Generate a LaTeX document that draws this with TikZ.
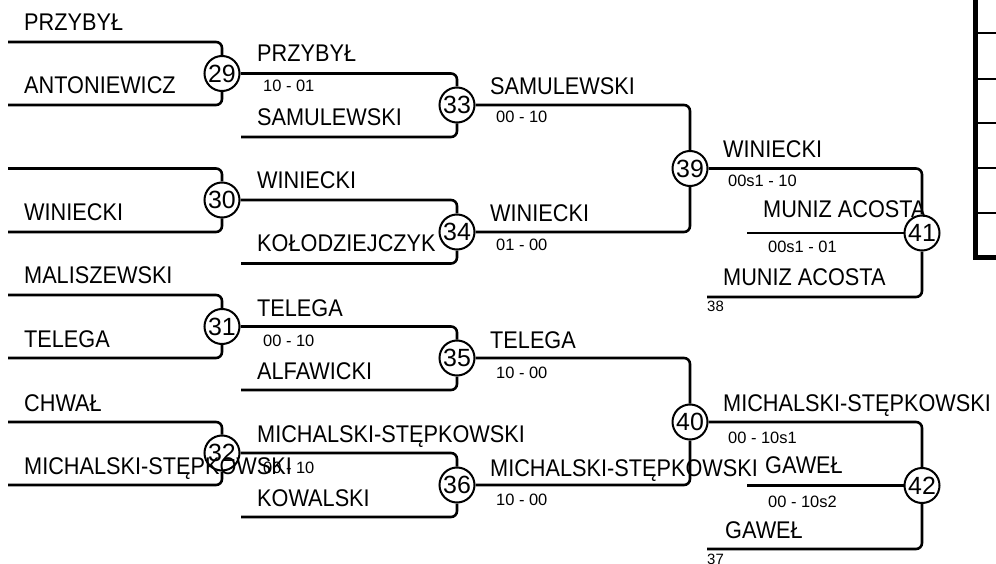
\documentclass[tikz,border=0pt]{standalone}
\usepackage{fontspec}
\setmainfont{Liberation Sans}
\newfontfamily\namefont[FakeStretch=0.9]{Liberation Sans}
\tikzset{
  player/.style={anchor=base west,inner sep=0pt,font=\namefont\fontsize{24.2}{25}\selectfont},
  score/.style={anchor=base west,inner sep=0pt,font=\fontsize{16.5}{17}\selectfont},
  tag/.style={anchor=base west,inner sep=0pt,font=\fontsize{15}{16}\selectfont},
  match/.style={circle,draw,line width=2bp,minimum size=35bp,inner sep=0pt,font=\fontsize{25}{25}\selectfont},
  bracket/.style={line width=2.6bp,rounded corners=6bp}
}
\begin{document}
\begin{tikzpicture}[x=1bp,y=-1bp]
\useasboundingbox (0,0) rectangle (996,564);

\node[match] (m29) at (222,73.5) {29};
\node[match] (m30) at (222,200) {30};
\node[match] (m31) at (222,326.5) {31};
\node[match] (m32) at (222,453) {32};
\node[match] (m33) at (457,105) {33};
\node[match] (m34) at (457,232) {34};
\node[match] (m35) at (457,358) {35};
\node[match] (m36) at (457,485) {36};
\node[match] (m39) at (690,168.5) {39};
\node[match] (m40) at (690,422) {40};
\node[match] (m41) at (922,233) {41};
\node[match] (m42) at (922,485.5) {42};

\coordinate (in29a) at (8,42);
\coordinate (in29b) at (8,105);
\coordinate (in30a) at (8,168.5);
\coordinate (in30b) at (8,232);
\coordinate (in31a) at (8,295);
\coordinate (in31b) at (8,358);
\coordinate (in32a) at (8,422);
\coordinate (in32b) at (8,485);
\coordinate (in33b) at (241,137);
\coordinate (in34b) at (241,263.5);
\coordinate (in35b) at (241,390);
\coordinate (in36b) at (241,517);
\coordinate (in41c) at (747,233);
\coordinate (in41b) at (707,297);
\coordinate (in42c) at (747,485.5);
\coordinate (in42b) at (707,549);

\draw[bracket] (in29a) -| (m29);
\draw[bracket] (in29b) -| (m29);
\draw[bracket] (in30a) -| (m30);
\draw[bracket] (in30b) -| (m30);
\draw[bracket] (in31a) -| (m31);
\draw[bracket] (in31b) -| (m31);
\draw[bracket] (in32a) -| (m32);
\draw[bracket] (in32b) -| (m32);

\draw[bracket] (m29) -| (m33);
\draw[bracket] (in33b) -| (m33);
\draw[bracket] (m30) -| (m34);
\draw[bracket] (in34b) -| (m34);
\draw[bracket] (m31) -| (m35);
\draw[bracket] (in35b) -| (m35);
\draw[bracket] (m32) -| (m36);
\draw[bracket] (in36b) -| (m36);

\draw[bracket] (m33) -| (m39);
\draw[bracket] (m34) -| (m39);
\draw[bracket] (m35) -| (m40);
\draw[bracket] (m36) -| (m40);

\draw[bracket] (m39) -| (m41);
\draw[bracket] (in41c) -- (m41);
\draw[bracket] (in41b) -| (m41);
\draw[bracket] (m40) -| (m42);
\draw[bracket] (in42c) -- (m42);
\draw[bracket] (in42b) -| (m42);

\node[player] (p29a) at (24,31) {PRZYBYŁ};
\node[player] (p29b) at (24,94) {ANTONIEWICZ};
\node[player] (p30b) at (24,221) {WINIECKI};
\node[player] (p31a) at (24,284) {MALISZEWSKI};
\node[player] (p31b) at (24,347) {TELEGA};
\node[player] (p32a) at (24,411) {CHWAŁ};
\node[player] (p32b) at (24,474) {MICHALSKI-STĘPKOWSKI};

\node[player] (p33a) at (257,62) {PRZYBYŁ};
\node[player] (p33b) at (257,126) {SAMULEWSKI};
\node[player] (p34a) at (257,189) {WINIECKI};
\node[player] (p34b) at (257,252) {KOŁODZIEJCZYK};
\node[player] (p35a) at (257,316) {TELEGA};
\node[player] (p35b) at (257,379) {ALFAWICKI};
\node[player] (p36a) at (257,442) {MICHALSKI-STĘPKOWSKI};
\node[player] (p36b) at (257,506) {KOWALSKI};
\node[score] (s29) at (263,92) {10 - 01};
\node[score] (s31) at (263,346) {00 - 10};
\node[score] (s32) at (263,473) {00 - 10};

\node[player] (p39a) at (490,95) {SAMULEWSKI};
\node[player] (p39b) at (490,222) {WINIECKI};
\node[player] (p40a) at (490,348) {TELEGA};
\node[player] (p40b) at (490,476) {MICHALSKI-STĘPKOWSKI};
\node[score] (s33) at (496,123) {00 - 10};
\node[score] (s34) at (496,251) {01 - 00};
\node[score] (s35) at (496,378) {10 - 00};
\node[score] (s36) at (496,505) {10 - 00};

\node[player] (p41a) at (723,158) {WINIECKI};
\node[player] (p41c) at (763,218) {MUNIZ ACOSTA};
\node[player] (p41b) at (723,286) {MUNIZ ACOSTA};
\node[score] (s39) at (728,187) {00s1 - 10};
\node[score] (s41) at (768,253) {00s1 - 01};
\node[tag] (t38) at (707,311) {38};

\node[player] (p42a) at (723,411) {MICHALSKI-STĘPKOWSKI};
\node[player] (p42c) at (765,473) {GAWEŁ};
\node[player] (p42b) at (725,538) {GAWEŁ};
\node[score] (s40) at (728,443) {00 - 10s1};
\node[score] (s42) at (768,507) {00 - 10s2};
\node[tag] (t37) at (707,564) {37};

\draw[line width=5bp] (975,-3) -- (975,258) -- (999,258);
\foreach \y in {33,79,123,168,213}
  \draw[line width=2bp] (975,\y) -- (996,\y);
\end{tikzpicture}
\end{document}
